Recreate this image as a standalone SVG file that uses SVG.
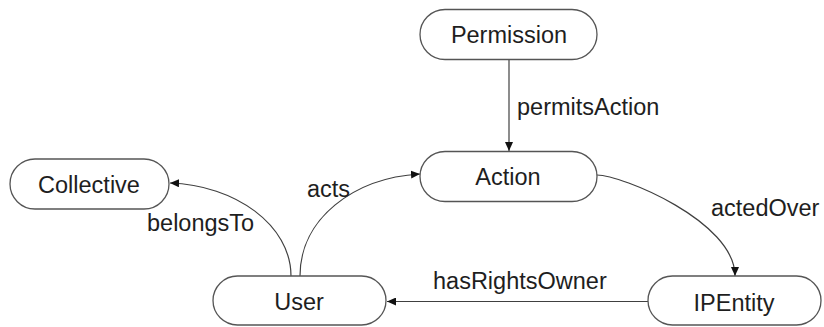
<svg xmlns="http://www.w3.org/2000/svg" width="824" height="327" viewBox="0 0 824 327">
<style>
.node rect{fill:#fff;stroke:#555;stroke-width:1.3}
text{font-family:"Liberation Sans",Arial,sans-serif;font-size:23.5px;fill:#1e1e1e}
.lbl{text-anchor:middle}
.edge{fill:none;stroke:#404040;stroke-width:1.2;marker-end:url(#ah)}
</style>
<defs>
<marker id="ah" markerUnits="userSpaceOnUse" markerWidth="10" markerHeight="8" refX="9" refY="4" orient="auto">
<path d="M0,0 L9,4 L0,8 Z" fill="#111"/>
</marker>
</defs>
<rect width="824" height="327" fill="#fff"/>
<g id="connectors">
<path class="edge" d="M509,60 L509,151"/>
<path class="edge" d="M291,276 C291,225 235,185 170,183"/>
<path class="edge" d="M300,276 C300,219 353,178 420,174"/>
<path class="edge" d="M597,175 C621,175 735,221 735,276"/>
<path class="edge" d="M648,301.5 L387,301.5"/>
<text x="517" y="115">permitsAction</text>
<text x="307" y="197">acts</text>
<text x="147" y="231">belongsTo</text>
<text x="711" y="216">actedOver</text>
<text x="433" y="289">hasRightsOwner</text>
</g>
<g id="Permission" class="node"><rect x="420" y="9.5" width="177" height="50" rx="25"/><text class="lbl" x="509" y="43">Permission</text></g>
<g id="Action" class="node"><rect x="420" y="151.5" width="177" height="50" rx="25"/><text class="lbl" x="508" y="185">Action</text></g>
<g id="Collective" class="node"><rect x="10" y="159" width="159" height="50" rx="25"/><text class="lbl" x="89" y="193">Collective</text></g>
<g id="User" class="node"><rect x="213" y="276" width="173" height="49" rx="24.5"/><text class="lbl" x="299" y="310">User</text></g>
<g id="IPEntity" class="node"><rect x="648" y="276" width="173" height="49" rx="24.5"/><text class="lbl" x="734" y="311">IPEntity</text></g>
</svg>
